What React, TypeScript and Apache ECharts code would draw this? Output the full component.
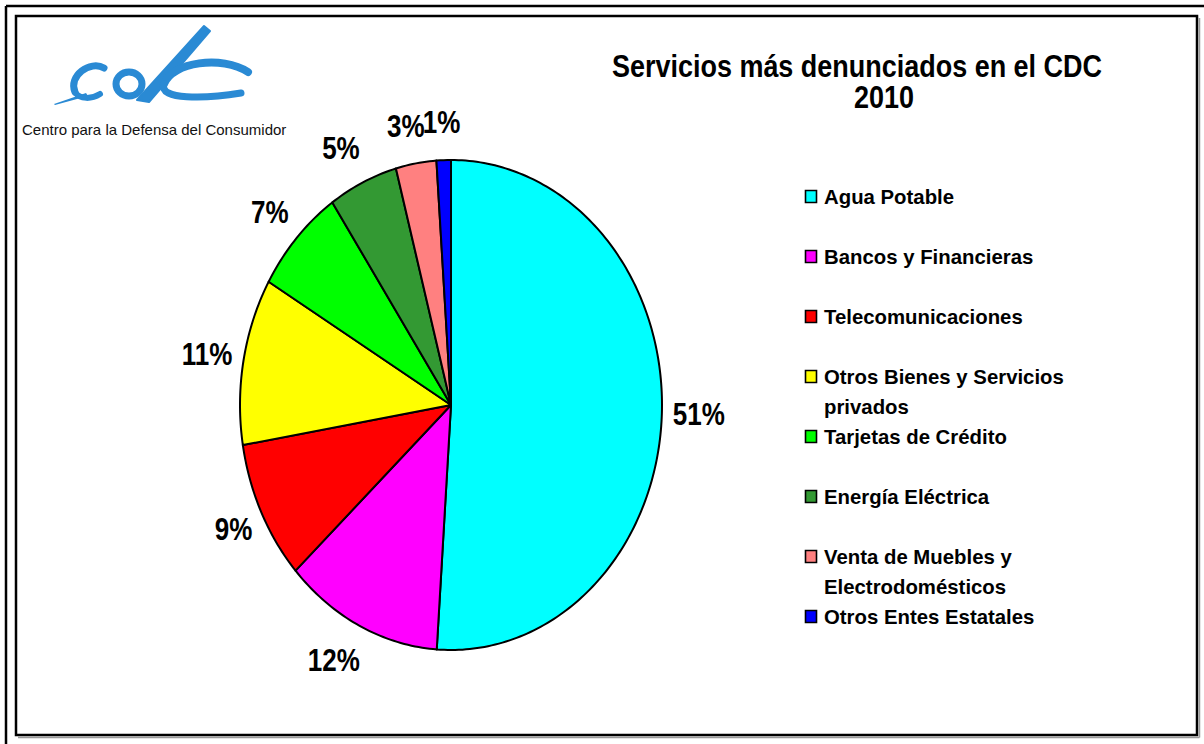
import React, { useEffect, useRef } from 'react';
import * as echarts from 'echarts';

// ---- data ----
const categories = [
  'Agua Potable',
  'Bancos y Financieras',
  'Telecomunicaciones',
  'Otros Bienes y Servicios\nprivados',
  'Tarjetas de Crédito',
  'Energía Eléctrica',
  'Venta de Muebles y\nElectrodomésticos',
  'Otros Entes Estatales',
];
const values = [51.05, 12.1, 9.2, 11.0, 7.1, 5.3, 3.1, 1.1];
const colors = ['#00FFFF', '#FF00FF', '#FF0000', '#FFFF00', '#00FF00', '#339933', '#FF8080', '#0000FF'];
const titleLines = ['Servicios más denunciados en el CDC', '2010'];
const logoCaption = 'Centro para la Defensa del Consumidor';

const FONT = '"Liberation Sans", Arial, Helvetica, sans-serif';
const BLUE = '#2A8AD4';

// layout (pixels)
const CX = 451;
const CY = 405;
const RX = 211;
const RY = 245;

export default function App() {
  const ref = useRef<HTMLDivElement>(null);

  useEffect(() => {
    if (!ref.current) return;
    const chart = echarts.init(ref.current, null, { renderer: 'svg' });
    const total = values.reduce((a, b) => a + b, 0);

    const legendEls: any[] = [];
    categories.forEach((c, i) => {
      const y = 196.5 + i * 60;
      legendEls.push({
        type: 'rect',
        shape: { x: 805.5, y: y - 6, width: 11, height: 12 },
        style: { fill: colors[i], stroke: '#000', lineWidth: 1.6 },
      });
      legendEls.push({
        type: 'text',
        x: 824,
        y: y - 15,
        scaleX: 0.97,
        style: {
          text: c,
          fontSize: 21,
          fontWeight: 'bold',
          fontFamily: FONT,
          fill: '#000',
          lineHeight: 30,
          textAlign: 'left',
          textVerticalAlign: 'top',
          align: 'left',
          verticalAlign: 'top',
        },
      });
    });

    const frame: any[] = [
      { type: 'line', shape: { x1: 6, y1: 6, x2: 1204, y2: 6 }, style: { stroke: '#000', lineWidth: 2.5 } },
      { type: 'line', shape: { x1: 6, y1: 6, x2: 6, y2: 744 }, style: { stroke: '#000', lineWidth: 2.5 } },
      { type: 'line', shape: { x1: 18, y1: 737.5, x2: 1199.5, y2: 737.5 }, style: { stroke: '#999', lineWidth: 1.5 } },
      { type: 'line', shape: { x1: 1199.5, y1: 18, x2: 1199.5, y2: 737.5 }, style: { stroke: '#999', lineWidth: 1.5 } },
      { type: 'rect', shape: { x: 16, y: 16, width: 1181, height: 719 }, style: { fill: 'none', stroke: '#000', lineWidth: 2.5 } },
    ];

    const stroke = (w: number) => ({ stroke: BLUE, lineWidth: w, lineCap: 'round', fill: 'none' });
    const logo: any[] = [
      // swoosh tail
      { type: 'polygon', shape: { points: [[54, 104], [86, 93], [88, 96], [55, 105]] }, style: { fill: BLUE } },
      // first c
      { type: 'bezierCurve', shape: { x1: 104, y1: 68, cpx1: 90, cpy1: 60, cpx2: 68, cpy2: 76, x2: 75, y2: 92 }, style: stroke(7) },
      { type: 'bezierCurve', shape: { x1: 75, y1: 92, cpx1: 80, cpy1: 100, cpx2: 92, cpy2: 99, x2: 100, y2: 94 }, style: stroke(6) },
      // d bowl
      { type: 'ellipse', shape: { cx: 129, cy: 84, rx: 13, ry: 12 }, style: { stroke: BLUE, lineWidth: 7, fill: 'none' } },
      // d ascender (tapering)
      { type: 'polygon', shape: { points: [[137, 100], [149, 102], [210, 31], [204, 26]] }, style: { fill: BLUE, stroke: BLUE, lineWidth: 2, lineJoin: 'round' } },
      // second c
      { type: 'bezierCurve', shape: { x1: 248, y1: 72, cpx1: 222, cpy1: 55, cpx2: 172, cpy2: 62, x2: 164, y2: 84 }, style: stroke(8) },
      { type: 'bezierCurve', shape: { x1: 164, y1: 84, cpx1: 158, cpy1: 100, cpx2: 205, cpy2: 99, x2: 241, y2: 93 }, style: stroke(7) },
      {
        type: 'text',
        x: 22,
        y: 129,
        style: {
          text: logoCaption,
          fontSize: 15,
          fontFamily: FONT,
          fill: '#111',
          textAlign: 'left',
          textVerticalAlign: 'middle',
          align: 'left',
          verticalAlign: 'middle',
        },
      },
    ];

    const title: any[] = [
      { x: 857, y: 66, t: titleLines[0] },
      { x: 884, y: 97, t: titleLines[1] },
    ].map((l) => ({
      type: 'text',
      x: l.x,
      y: l.y,
      scaleX: 0.87,
      style: {
        text: l.t,
        fontSize: 31,
        fontWeight: 'bold',
        fontFamily: FONT,
        fill: '#000',
        textAlign: 'center',
        textVerticalAlign: 'middle',
        align: 'center',
        verticalAlign: 'middle',
      },
    }));

    chart.setOption({
      animation: false,
      backgroundColor: '#ffffff',
      graphic: [...frame, ...logo, ...title, ...legendEls],
      series: [
        {
          type: 'custom',
          coordinateSystem: 'none',
          data: values.map((v, i) => ({ name: categories[i], value: v })),
          renderItem: (params: any, api: any) => {
            const i = params.dataIndex;
            let before = 0;
            for (let k = 0; k < i; k++) before += values[k];
            const v = api.value(0);
            const a0 = (before / total) * Math.PI * 2;
            const a1 = ((before + v) / total) * Math.PI * 2;
            const pts: number[][] = [[CX, CY]];
            const n = Math.max(2, Math.ceil((a1 - a0) / (Math.PI / 180)));
            for (let s = 0; s <= n; s++) {
              const t = a0 + ((a1 - a0) * s) / n;
              pts.push([CX + RX * Math.sin(t), CY - RY * Math.cos(t)]);
            }
            const tm = (a0 + a1) / 2;
            const sn = Math.sin(tm);
            const cs = Math.cos(tm);
            const label = Math.round((v / total) * 100) + '%';
            const hw = label.length === 2 ? 18.5 : 26;
            const c4 = cs * cs * cs * cs;
            const lx = CX + sn * (RX + 11 + hw + 34 * c4);
            const ly = CY - cs * (RY + 38);
            return {
              type: 'group',
              children: [
                {
                  type: 'polygon',
                  shape: { points: pts },
                  style: { fill: colors[i], stroke: '#000', lineWidth: 2, lineJoin: 'round' },
                },
                {
                  type: 'text',
                  x: lx,
                  y: ly,
                  scaleX: 0.84,
                  style: {
                    text: label,
                    fontSize: 31,
                    fontWeight: 'bold',
                    fontFamily: FONT,
                    fill: '#000',
                    textAlign: 'center',
                    textVerticalAlign: 'middle',
                    align: 'center',
                    verticalAlign: 'middle',
                  },
                },
              ],
            };
          },
        },
      ],
    });

    return () => chart.dispose();
  }, []);

  return (
    <div
      ref={ref}
      style={{ position: 'absolute', left: 0, top: 0, width: 1204, height: 744, background: '#fff' }}
    />
  );
}
